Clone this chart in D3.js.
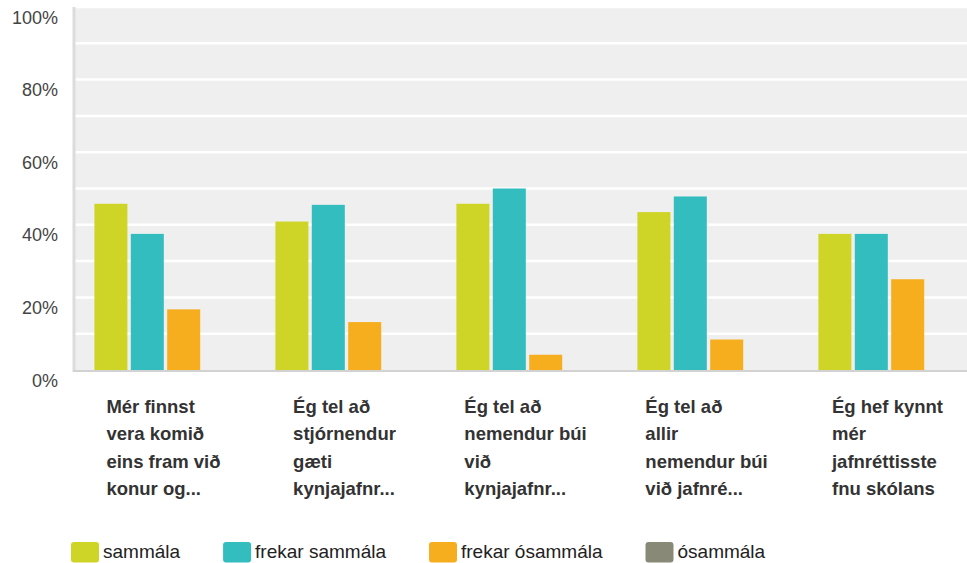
<!DOCTYPE html>
<html lang="is">
<head>
<meta charset="UTF-8">
<title>Jafnrétti</title>
<style>
  body, html { margin: 0; padding: 0; background: #fff; overflow: hidden; }
  svg { display: block; font-family: Arial, "Liberation Sans", Helvetica, sans-serif; }
  .ytick { font-size: 18px; fill: #444; }
  .cat { font-size: 18.5px; font-weight: bold; fill: #333; }
  .legend text { font-size: 19px; fill: #222; }
</style>
</head>
<body>
<svg></svg>
<script src="https://d3js.org/d3.v7.min.js"></script>
<script>
// categories, one array of wrapped lines each
const categories = [
  ["Mér finnst", "vera komið", "eins fram við", "konur og..."],
  ["Ég tel að", "stjórnendur", "gæti", "kynjajafnr..."],
  ["Ég tel að", "nemendur búi", "við", "kynjajafnr..."],
  ["Ég tel að", "allir", "nemendur búi", "við jafnré..."],
  ["Ég hef kynnt", "mér", "jafnréttisste", "fnu skólans"]
];
const seriesNames = ["sammála", "frekar sammála", "frekar ósammála", "ósammála"];
const seriesColors = ["#cfd527", "#33bdbe", "#f7ae1e", "#898977"];

// percent values per series
const sammala = [45.8, 40.9, 45.8, 43.5, 37.5];
const frekarSammala = [37.5, 45.5, 50.0, 47.8, 37.5];
const frekarOsammala = [16.7, 13.2, 4.2, 8.4, 25.0];
const osammala = [0, 0, 0, 0, 0];

const yTicks = [0, 20, 40, 60, 80, 100];
const yGrid = [10, 20, 30, 40, 50, 60, 70, 80, 90, 100];

const seriesValues = [sammala, frekarSammala, frekarOsammala, osammala];

const width = 967, height = 563;
const margin = { top: 7, left: 75, bottom: 193, right: -13 };

const svg = d3.select("svg").attr("width", width).attr("height", height);

const x0 = d3.scaleBand()
  .domain(d3.range(categories.length))
  .range([margin.left, width - margin.right]);

const x1 = d3.scaleBand()
  .domain(d3.range(seriesNames.length))
  .range([0, x0.bandwidth()])
  .paddingInner(0.093)
  .paddingOuter(0.533);

const y = d3.scaleLinear()
  .domain([0, 100])
  .range([height - margin.bottom, margin.top]);

// plot background
svg.append("rect")
  .attr("x", margin.left)
  .attr("y", y(100))
  .attr("width", width - margin.right - margin.left)
  .attr("height", y(0) - y(100))
  .attr("fill", "#efefef");

// grid lines
svg.append("g").selectAll("line")
  .data(yGrid)
  .enter().append("line")
  .attr("x1", margin.left)
  .attr("x2", width - margin.right)
  .attr("y1", d => y(d))
  .attr("y2", d => y(d))
  .attr("stroke", "#fff")
  .attr("stroke-width", 2.5);

// left axis line and baseline
svg.append("line")
  .attr("x1", margin.left - 1).attr("x2", margin.left - 1)
  .attr("y1", y(100)).attr("y2", y(0) + 2)
  .attr("stroke", "#dcdcdc").attr("stroke-width", 3);

svg.append("line")
  .attr("x1", margin.left - 2).attr("x2", width - margin.right)
  .attr("y1", y(0) + 1).attr("y2", y(0) + 1)
  .attr("stroke", "#d2d2d2").attr("stroke-width", 2);

// y tick labels
svg.append("g").selectAll("text")
  .data(yTicks)
  .enter().append("text")
  .attr("class", "ytick")
  .attr("x", 58)
  .attr("y", d => y(d) + 16.5)
  .attr("text-anchor", "end")
  .text(d => d + "%");

// bars
const groups = svg.append("g").selectAll("g")
  .data(categories)
  .enter().append("g")
  .attr("transform", (d, i) => `translate(${x0(i)},0)`);

groups.selectAll("rect")
  .data((d, i) => seriesValues.map((vals, s) => ({ s, v: vals[i] })))
  .enter().append("rect")
  .attr("x", d => x1(d.s))
  .attr("width", x1.bandwidth())
  .attr("y", d => y(d.v))
  .attr("height", d => y(0) - y(d.v))
  .attr("fill", d => seriesColors[d.s]);

// category labels, left aligned block centered under group
const lineHeight = 27.3;
categories.forEach((lines, i) => {
  const g = svg.append("g");
  const texts = g.selectAll("text")
    .data(lines)
    .enter().append("text")
    .attr("class", "cat")
    .attr("y", (d, j) => 413 + j * lineHeight)
    .text(d => d);
  let maxW = 0;
  texts.each(function () { maxW = Math.max(maxW, this.getComputedTextLength()); });
  const cx = x0(i) + x0.bandwidth() / 2 - 2;
  texts.attr("x", cx - maxW / 2);
});

// legend
const legend = svg.append("g").attr("class", "legend");
let lx = 71;
seriesNames.forEach((name, i) => {
  legend.append("rect")
    .attr("x", lx).attr("y", 542)
    .attr("width", 28).attr("height", 20.5)
    .attr("rx", 3)
    .attr("fill", seriesColors[i]);
  const t = legend.append("text")
    .attr("x", lx + 32)
    .attr("y", 557.5)
    .text(name);
  lx += 32 + t.node().getComputedTextLength() + 43;
});
</script>
</body>
</html>
